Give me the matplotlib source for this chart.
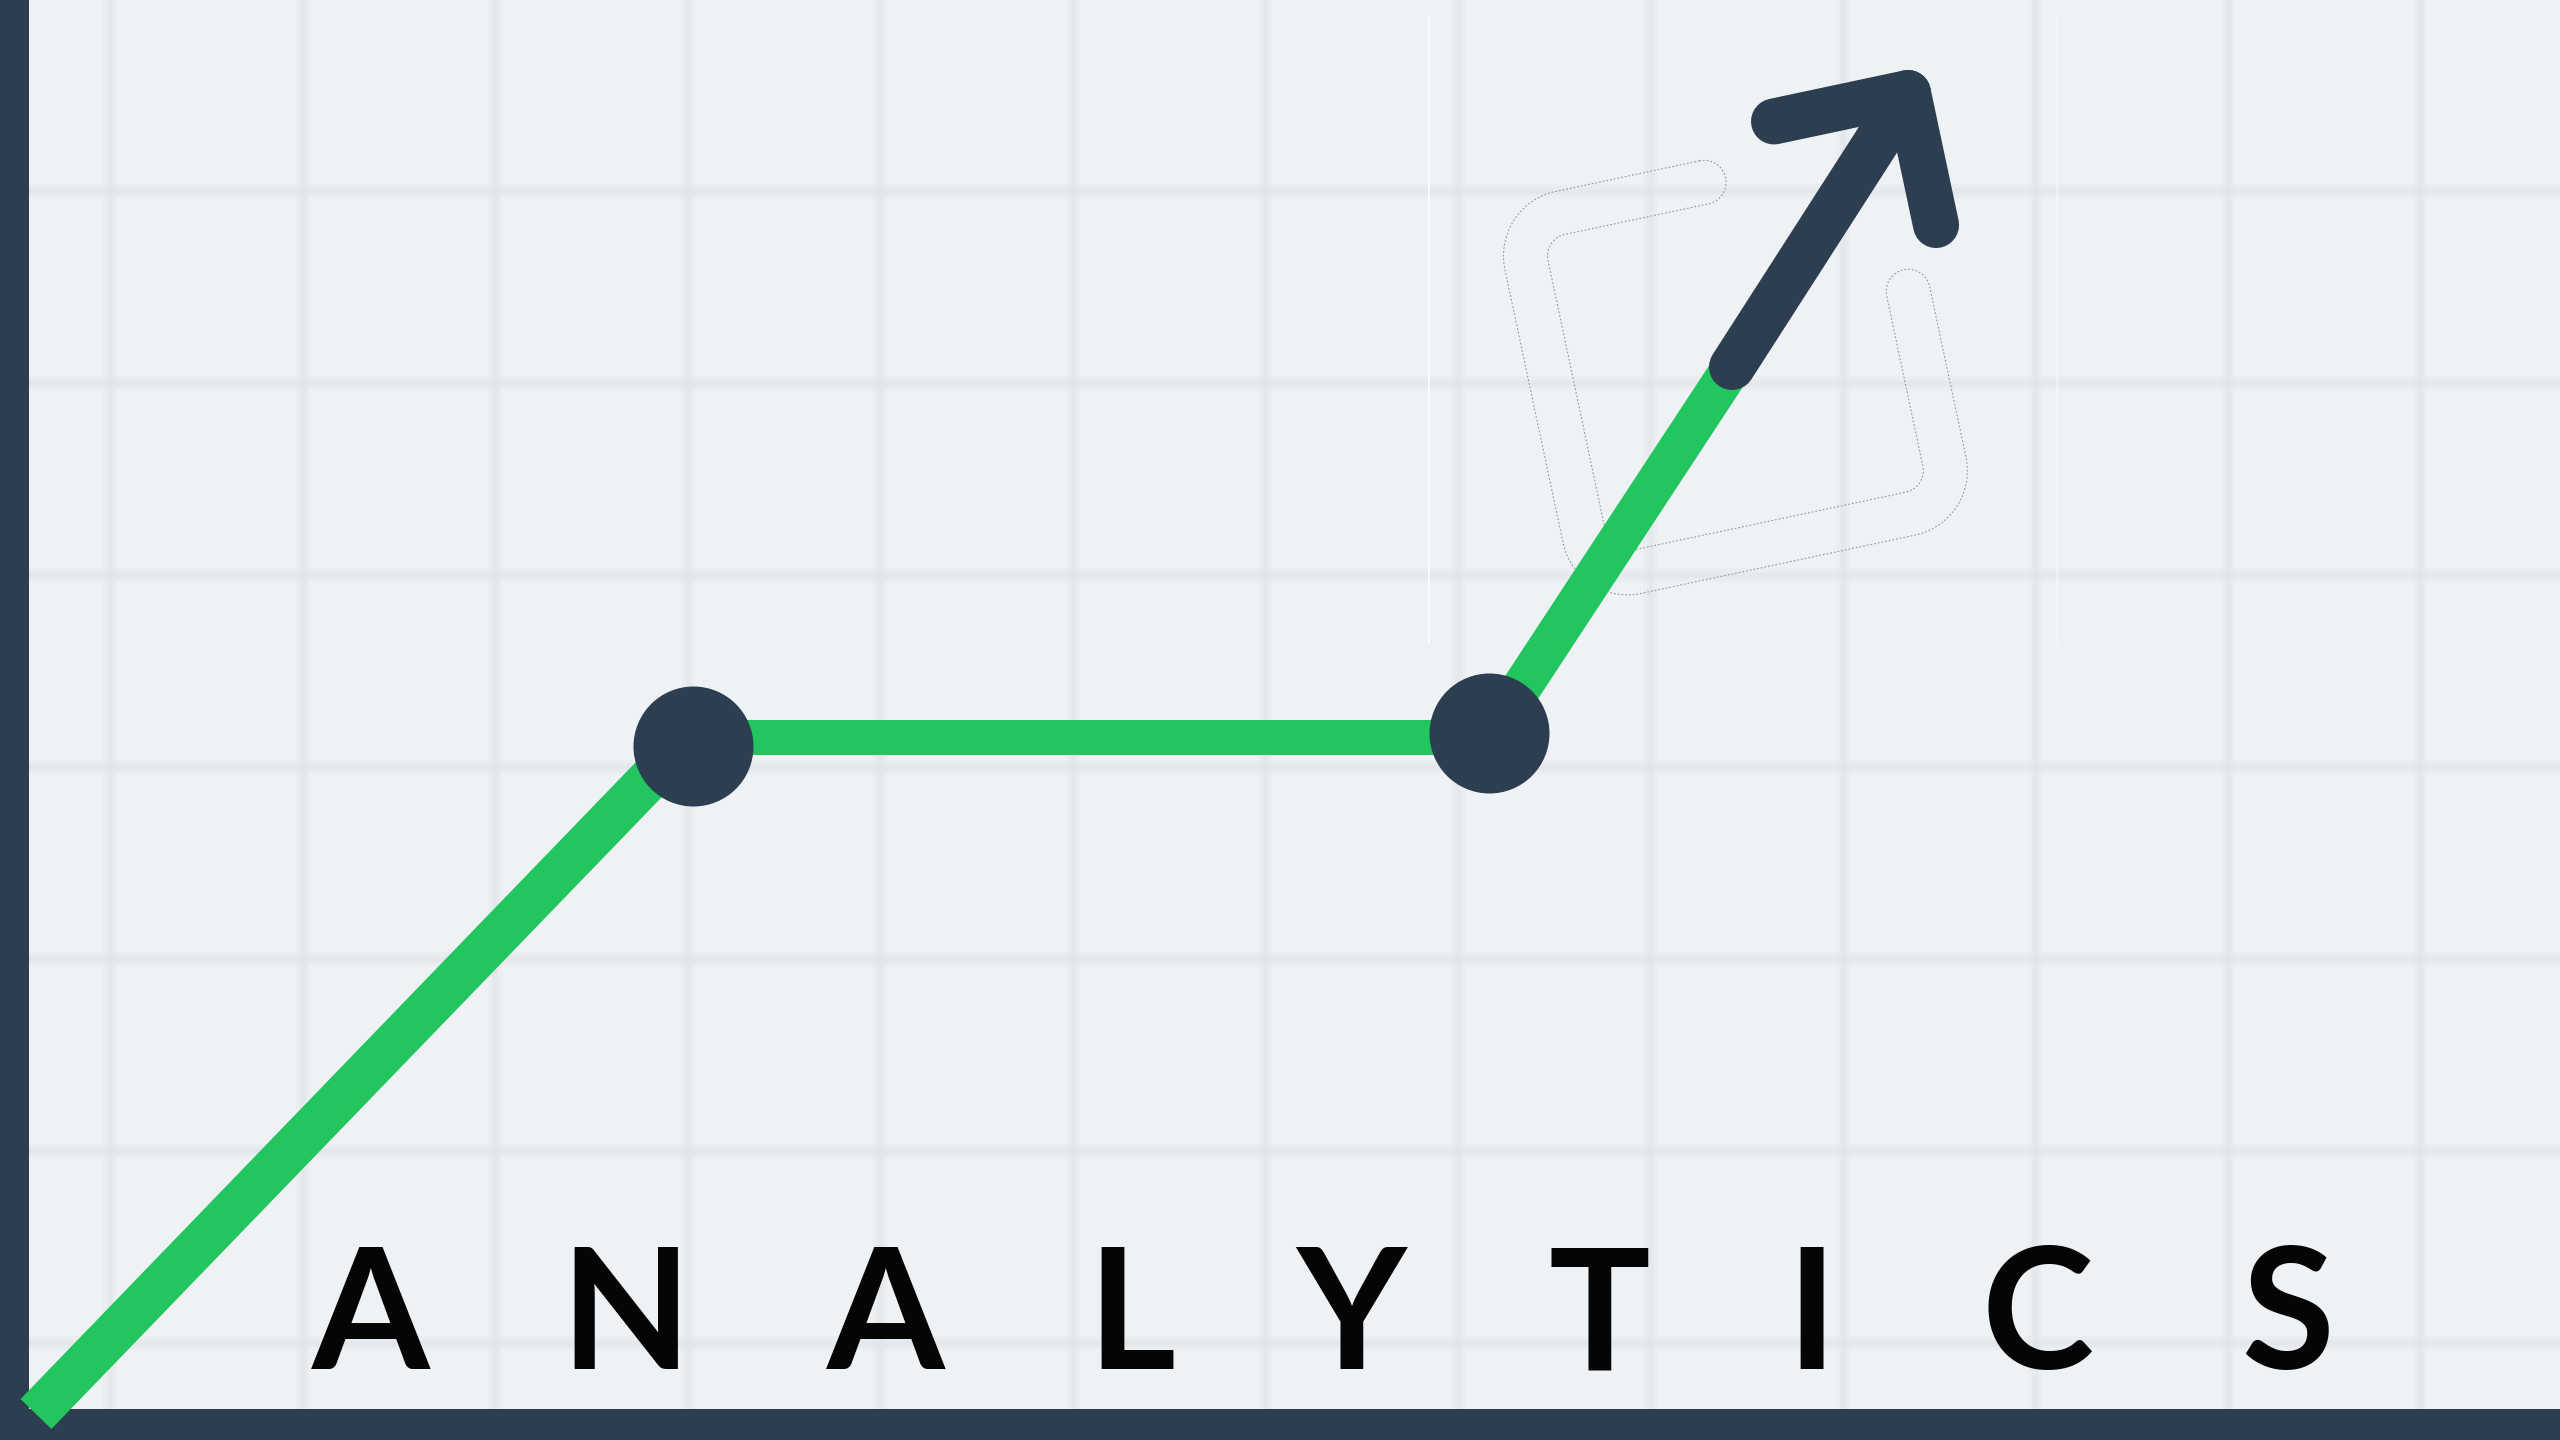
import numpy as np
import matplotlib.pyplot as plt
from matplotlib import font_manager

# canvas is 2560x1440 px, y measured from the top
W, H = 2560, 1440
PT = 0.72  # points per pixel at dpi=100

# growth path through the chart
path_x = [36, 690, 1489, 1732]
path_y = [1414, 737, 737, 367]
seg_width = [43, 35, 40]  # px, per segment

# milestone dots on the path
dot_x = [693, 1489]
dot_y = [746, 733]

# title letters and their centres
letters = list("ANALYTICS")
letter_x = [371, 626, 886, 1131, 1351, 1599, 1812, 2038, 2288]
letter_base = 1369

BG = '#eef2f5'
NAVY = '#2c3e50'
GREEN = '#22c55e'
GRID = '#e2e6ea'


def to_screen(pts, origin, theta):
    # rotate local icon coords (y down) counter-clockwise on screen, then shift
    c, s = np.cos(theta), np.sin(theta)
    x, y = pts[:, 0], pts[:, 1]
    return np.column_stack([origin[0] + x*c + y*s, origin[1] - x*s + y*c])


def open_square(left, right, top, bottom, r, x_start, y_end, n=60):
    segs = [
        np.column_stack([np.linspace(x_start, left + r, n), np.full(n, top)]),
    ]
    a = np.linspace(-np.pi/2, -np.pi, n)
    segs.append(np.column_stack([left + r + r*np.cos(a), top + r + r*np.sin(a)]))
    segs.append(np.column_stack([np.full(n, left), np.linspace(top + r, bottom - r, n)]))
    a = np.linspace(np.pi, np.pi/2, n)
    segs.append(np.column_stack([left + r + r*np.cos(a), bottom - r + r*np.sin(a)]))
    segs.append(np.column_stack([np.linspace(left + r, right - r, n), np.full(n, bottom)]))
    a = np.linspace(np.pi/2, 0, n)
    segs.append(np.column_stack([right - r + r*np.cos(a), bottom - r + r*np.sin(a)]))
    segs.append(np.column_stack([np.full(n, right), np.linspace(bottom - r, y_end, n)]))
    pts = np.vstack([segs[0]] + [s[1:] for s in segs[1:]])
    return pts


def stroke_outline(pts, d, n=40):
    # outline of a thick stroke with round caps
    t = np.gradient(pts, axis=0)
    t /= np.linalg.norm(t, axis=1)[:, None]
    nrm = np.column_stack([-t[:, 1], t[:, 0]])
    outer = pts + d*nrm
    inner = pts - d*nrm
    a = np.linspace(0, np.pi, n)[:, None]
    end = pts[-1] + d*(np.cos(a)*nrm[-1] + np.sin(a)*t[-1])
    start = pts[0] + d*(-np.cos(a)*nrm[0] - np.sin(a)*t[0])
    return np.vstack([outer, end, inner[::-1], start])


# narrow font if we have one
names = {f.name for f in font_manager.fontManager.ttflist}
title_font = 'Liberation Sans Narrow' if 'Liberation Sans Narrow' in names else 'Lato'

fig = plt.figure(figsize=(W/100, H/100), dpi=100)
fig.patch.set_facecolor(BG)
ax = fig.add_axes([0, 0, 1, 1])
ax.set_facecolor(BG)
ax.set_xlim(0, W)
ax.set_ylim(H, 0)
ax.axis('off')

# soft grid
gx = np.arange(110, W, 192.5)
gy = np.arange(-1.3, H, 192)
for lw, al in [(14, 0.3), (7, 0.4), (3, 0.35)]:
    ax.vlines(gx, 0, H, color=GRID, lw=lw*PT, alpha=al, zorder=1)
    ax.hlines(gy, 0, W, color=GRID, lw=lw*PT, alpha=al, zorder=1)

# faint box edges behind the icon
ax.plot([1429, 1429], [17, 643], color='white', lw=1.6*PT, alpha=0.95, zorder=1.5)
ax.plot([2057, 2057], [17, 643], color='white', lw=1.6*PT, alpha=0.5, zorder=1.5)

# icon: rotated open square (dotted outline) + arrow
apex = (1908, 93)
theta = np.radians(12)
sq = open_square(-409, -41, 45, 412, 44, -218, 194)
outline = to_screen(stroke_outline(sq, 22), apex, theta)
outline = np.vstack([outline, outline[:1]])
ax.plot(outline[:, 0], outline[:, 1], color='#7d848b', lw=1.1*PT,
        ls=(0, (1.6, 1.8)), alpha=0.8, zorder=2)

# frame bars
ax.fill_between([0, 29], 0, H, color=NAVY, lw=0, zorder=3)
ax.fill_between([0, W], 1409, H, color=NAVY, lw=0, zorder=3)

# green growth line, one segment at a time
for i, w in enumerate(seg_width):
    ax.plot(path_x[i:i+2], path_y[i:i+2], color=GREEN, lw=w*PT,
            solid_capstyle='butt', zorder=4)

# milestone dots
ax.plot(dot_x, dot_y, 'o', ms=120*PT, color=NAVY, mew=0, zorder=5)

# arrow head and shaft
head = to_screen(np.array([[-137.0, 0.0], [0.0, 0.0], [0.0, 135.0]]), apex, theta)
ax.plot(head[:, 0], head[:, 1], color=NAVY, lw=46*PT, solid_capstyle='round',
        solid_joinstyle='round', zorder=6)
ax.plot([path_x[-1], apex[0]], [path_y[-1], apex[1]], color=NAVY, lw=46*PT,
        solid_capstyle='round', zorder=6)

# spaced title letters
for ch, x in zip(letters, letter_x):
    ax.text(x, letter_base, ch, ha='center', va='baseline', fontsize=122,
            family=[title_font, 'DejaVu Sans'], weight='bold', color='#050505',
            zorder=7)

fig.savefig('out.png', dpi=100, facecolor=BG)
plt.close(fig)
